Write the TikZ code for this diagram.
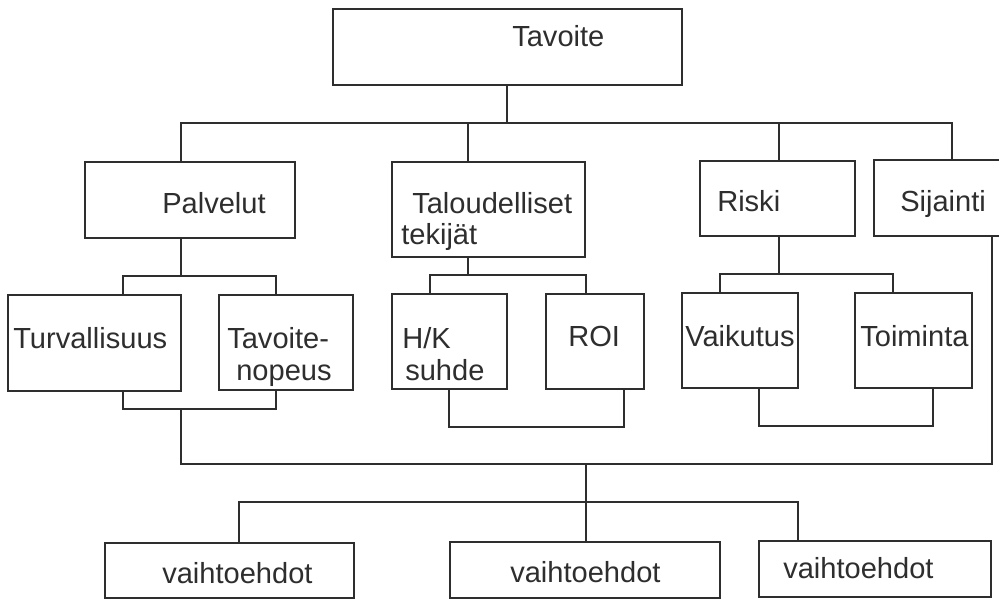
\documentclass[tikz,border=0pt]{standalone}
\usepackage{fontspec}
\setmainfont{Liberation Sans}
\usetikzlibrary{fit}
\definecolor{ink}{HTML}{2E2E2E}
\tikzset{
  box/.style={draw=ink, line width=1.4pt, inner sep=0pt, rectangle},
  lbl/.style={anchor=base west, inner sep=0pt, text=ink, font=\fontsize{21.8}{25}\selectfont},
  conn/.style={draw=ink, line width=1.4pt, line cap=rect}
}
\begin{document}
\begin{tikzpicture}[x=0.75pt, y=0.75pt]
\clip (0,0) rectangle (999,-600);
\fill[white] (0,0) rectangle (999,-600);
% boxes
\node[box, fit={(333,-9) (682,-85)}] (tav) {};
\node[box, fit={(85,-162) (295,-238)}] (pal) {};
\node[box, fit={(392,-162) (585,-257)}] (tal) {};
\node[box, fit={(700,-161) (855,-236)}] (rsk) {};
\node[box, fit={(874,-160) (1030,-236)}] (sij) {};
\node[box, fit={(8,-295) (181,-391)}] (tur) {};
\node[box, fit={(219,-295) (353,-390)}] (tvn) {};
\node[box, fit={(392,-294) (507,-389)}] (hk) {};
\node[box, fit={(546,-294) (644,-389)}] (roi) {};
\node[box, fit={(682,-293) (798,-388)}] (vai) {};
\node[box, fit={(855,-293) (972,-388)}] (toi) {};
\node[box, fit={(105,-543) (354,-598)}] (v1) {};
\node[box, fit={(450,-542) (720,-598)}] (v2) {};
\node[box, fit={(759,-541) (991,-597)}] (v3) {};
% texts
\node[lbl] (tavT) at (512,-46) {Tavoite};
\node[lbl] (palT) at (162,-213) {Palvelut};
\node[lbl] (talT1) at (412,-213) {Taloudelliset};
\node[lbl] (talT2) at (401,-244) {tekijät};
\node[lbl] (rskT) at (717,-211) {Riski};
\node[lbl] (sijT) at (900,-211) {Sijainti};
\node[lbl] (turT) at (13,-348) {Turvallisuus};
\node[lbl] (tvnT1) at (227,-348) {Tavoite-};
\node[lbl] (tvnT2) at (236,-380) {nopeus};
\node[lbl] (hkT1) at (402,-348) {H/K};
\node[lbl] (hkT2) at (405,-380) {suhde};
\node[lbl] (roiT) at (568,-346) {ROI};
\node[lbl] (vaiT) at (685,-346) {Vaikutus};
\node[lbl] (toiT) at (860,-346) {Toiminta};
\node[lbl] (v1T) at (162,-583) {vaihtoehdot};
\node[lbl] (v2T) at (510,-582) {vaihtoehdot};
\node[lbl] (v3T) at (783,-578) {vaihtoehdot};
% junction coordinates
\coordinate (busL) at (181,-123);
\coordinate (busR) at (952,-123);
\coordinate (busT) at (468,-123);
\coordinate (busM) at (507,-123);
\coordinate (busK) at (779,-123);
\coordinate (pc) at (181,-276);
\coordinate (pa) at (123,-276);
\coordinate (pb) at (276,-276);
\coordinate (qa) at (123,-409);
\coordinate (qb) at (276,-409);
\coordinate (qc) at (181,-409);
\coordinate (tc) at (468,-275);
\coordinate (ta) at (430,-275);
\coordinate (tb) at (586,-275);
\coordinate (ua) at (449,-427);
\coordinate (ub) at (624,-427);
\coordinate (rc) at (779,-274);
\coordinate (ra) at (720,-274);
\coordinate (rb) at (893,-274);
\coordinate (va) at (759,-426);
\coordinate (vb) at (933,-426);
\coordinate (lowL) at (181,-464);
\coordinate (xs) at (992,-464);
\coordinate (lm) at (586,-464);
\coordinate (lm2) at (586,-502);
\coordinate (l1) at (239,-502);
\coordinate (l3) at (798,-502);
% top level
\draw[conn] (tav.south -| busM) -- (busM);
\draw[conn] (pal.north -| busL) -- (busL) -- (busR) -- (sij.north -| busR);
\draw[conn] (busT) -- (tal.north -| busT);
\draw[conn] (busK) -- (rsk.north -| busK);
% Palvelut group
\draw[conn] (pal.south -| pc) -- (pc);
\draw[conn] (tur.north -| pa) -- (pa) -- (pb) -- (tvn.north -| pb);
\draw[conn] (tur.south -| qa) -- (qa) -- (qb) -- (tvn.south -| qb);
\draw[conn] (qc) -- (lowL);
% Taloudelliset group
\draw[conn] (tal.south -| tc) -- (tc);
\draw[conn] (hk.north -| ta) -- (ta) -- (tb) -- (roi.north -| tb);
\draw[conn] (hk.south -| ua) -- (ua) -- (ub) -- (roi.south -| ub);
% Riski group
\draw[conn] (rsk.south -| rc) -- (rc);
\draw[conn] (vai.north -| ra) -- (ra) -- (rb) -- (toi.north -| rb);
\draw[conn] (vai.south -| va) -- (va) -- (vb) -- (toi.south -| vb);
% lower bus
\draw[conn] (sij.south -| xs) -- (xs) -- (lowL);
\draw[conn] (lm) -- (lm2) -- (v2.north -| lm2);
\draw[conn] (v1.north -| l1) -- (l1) -- (l3) -- (v3.north -| l3);
\end{tikzpicture}
\end{document}
